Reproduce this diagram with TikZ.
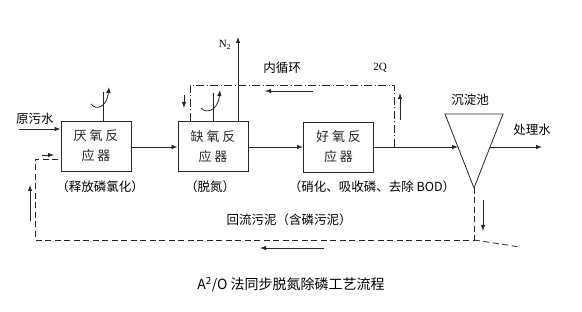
\documentclass[tikz,border=0pt]{standalone}
\usepackage{fontspec}
\setmainfont{Liberation Serif}
\newfontfamily\cjk{Noto Sans CJK SC}
\usetikzlibrary{arrows.meta}
\begin{document}
\begin{tikzpicture}[x=1pt,y=-1pt,
  line/.style={line width=0.8pt, black!85},
  arr/.style={line, -{Latex[length=6pt,width=4.5pt]}},
  reactor/.style={draw, line width=0.8pt, black!85, minimum width=70pt, minimum height=50pt, inner sep=0pt, align=center, font=\cjk\fontsize{13}{20}\selectfont},
  lbl/.style={inner sep=0pt, font=\cjk\fontsize{12.5}{14}\selectfont},
  sludge/.style={line, dash pattern=on 6pt off 3.5pt},
  recyc/.style={line, dash pattern=on 8pt off 2.5pt on 1pt off 2.5pt}]
\useasboundingbox (0,0) rectangle (582,312);
% reactors
\node[reactor] (ana) at (96,146) {厌 氧 反\\应 器};
\node[reactor] (anox) at (213,146.5) {缺 氧 反\\应 器};
\node[reactor] (aer) at (338.5,147) {好 氧 反\\应 器};
% settling tank
\coordinate (tl) at (445,114);
\coordinate (tr) at (503,114);
\coordinate (tb) at (474,188);
\draw[line] (tl) -- (tr) -- (tb) -- cycle;
\coordinate (tin) at (458,147);
\coordinate (tout) at (490,147);
\coordinate (outend) at (542,147);
% main flow
\coordinate (inl) at (19,129);
\draw[arr] (inl) -- (inl -| ana.west);
\draw[arr] (ana.east |- 0,147) -- (anox.west |- 0,147);
\draw[arr] (anox.east |- 0,147) -- (aer.west |- 0,147);
\draw[arr] (aer.east |- 0,147) -- (tin);
\draw[arr] (tout) -- (outend);
% stirrers
\coordinate (s1) at (103,92);
\draw[line] (s1 |- ana.north) -- (s1);
\draw[arr] (91,104) .. controls (96,111) and (107,107) .. (109,87);
\coordinate (s2) at (213,93);
\draw[line] (s2 |- anox.north) -- (s2);
\draw[arr] (201,108) .. controls (206,114) and (218,111) .. (220,90);
% N2
\coordinate (n2) at (238,37);
\draw[arr] (n2 |- anox.north) -- (n2);
\node[inner sep=0pt, font=\fontsize{11}{12}\selectfont] (n2l) at (225,45) {N\textsubscript{2}};
% internal recycle
\coordinate (rj) at (394,147);
\coordinate (rtr) at (394,85);
\coordinate (rtl) at (190,85);
\draw[recyc] (rj) -- (rtr) -- (rtl) -- (rtl |- anox.north);
\coordinate (ra1) at (313,91); \coordinate (ra2) at (265,91);
\draw[arr] (ra1) -- (ra2);
\coordinate (rb1) at (184,95); \coordinate (rb2) at (184,108);
\draw[arr] (rb1) -- (rb2);
\coordinate (rc1) at (400,120); \coordinate (rc2) at (400,93);
\draw[arr] (rc1) -- (rc2);
% sludge return
\coordinate (sb) at (474,240);
\coordinate (sl) at (35,240);
\coordinate (st) at (35,159);
\coordinate (sx) at (520,247);
\draw[sludge] (tb) -- (sb) -- (sl) -- (st) -- (st -| ana.west);
\draw[sludge] (sb) -- (sx);
\coordinate (sa1) at (42,155); \coordinate (sa2) at (54,155);
\draw[arr] (sa1) -- (sa2);
\coordinate (sc1) at (30,221); \coordinate (sc2) at (30,185);
\draw[arr] (sc1) -- (sc2);
\coordinate (sd1) at (324,248); \coordinate (sd2) at (260,248);
\draw[arr] (sd1) -- (sd2);
\coordinate (se1) at (483,200); \coordinate (se2) at (483,231);
\draw[arr] (se1) -- (se2);
% labels
\node[lbl] (raw) at (35,119) {原污水};
\node[lbl] (inner) at (282,68) {内循环};
\node[inner sep=0pt, font=\fontsize{11}{12}\selectfont] (twoq) at (380,68) {2Q};
\node[lbl] (tank) at (470,100) {沉淀池};
\node[lbl] (treated) at (532,130) {处理水};
\node[lbl] (d1) at (100,187) {（释放磷氯化）};
\node[lbl] (d2) at (210,187) {（脱氮）};
\node[lbl] (d3) at (372,187) {（硝化、吸收磷、去除 BOD）};
\node[lbl] (ret) at (289,220) {回流污泥（含磷污泥）};
\node[inner sep=0pt, font=\cjk\fontsize{14}{16}\selectfont] (cap) at (291,285) {A\textsuperscript{2}/O 法同步脱氮除磷工艺流程};
\end{tikzpicture}
\end{document}
